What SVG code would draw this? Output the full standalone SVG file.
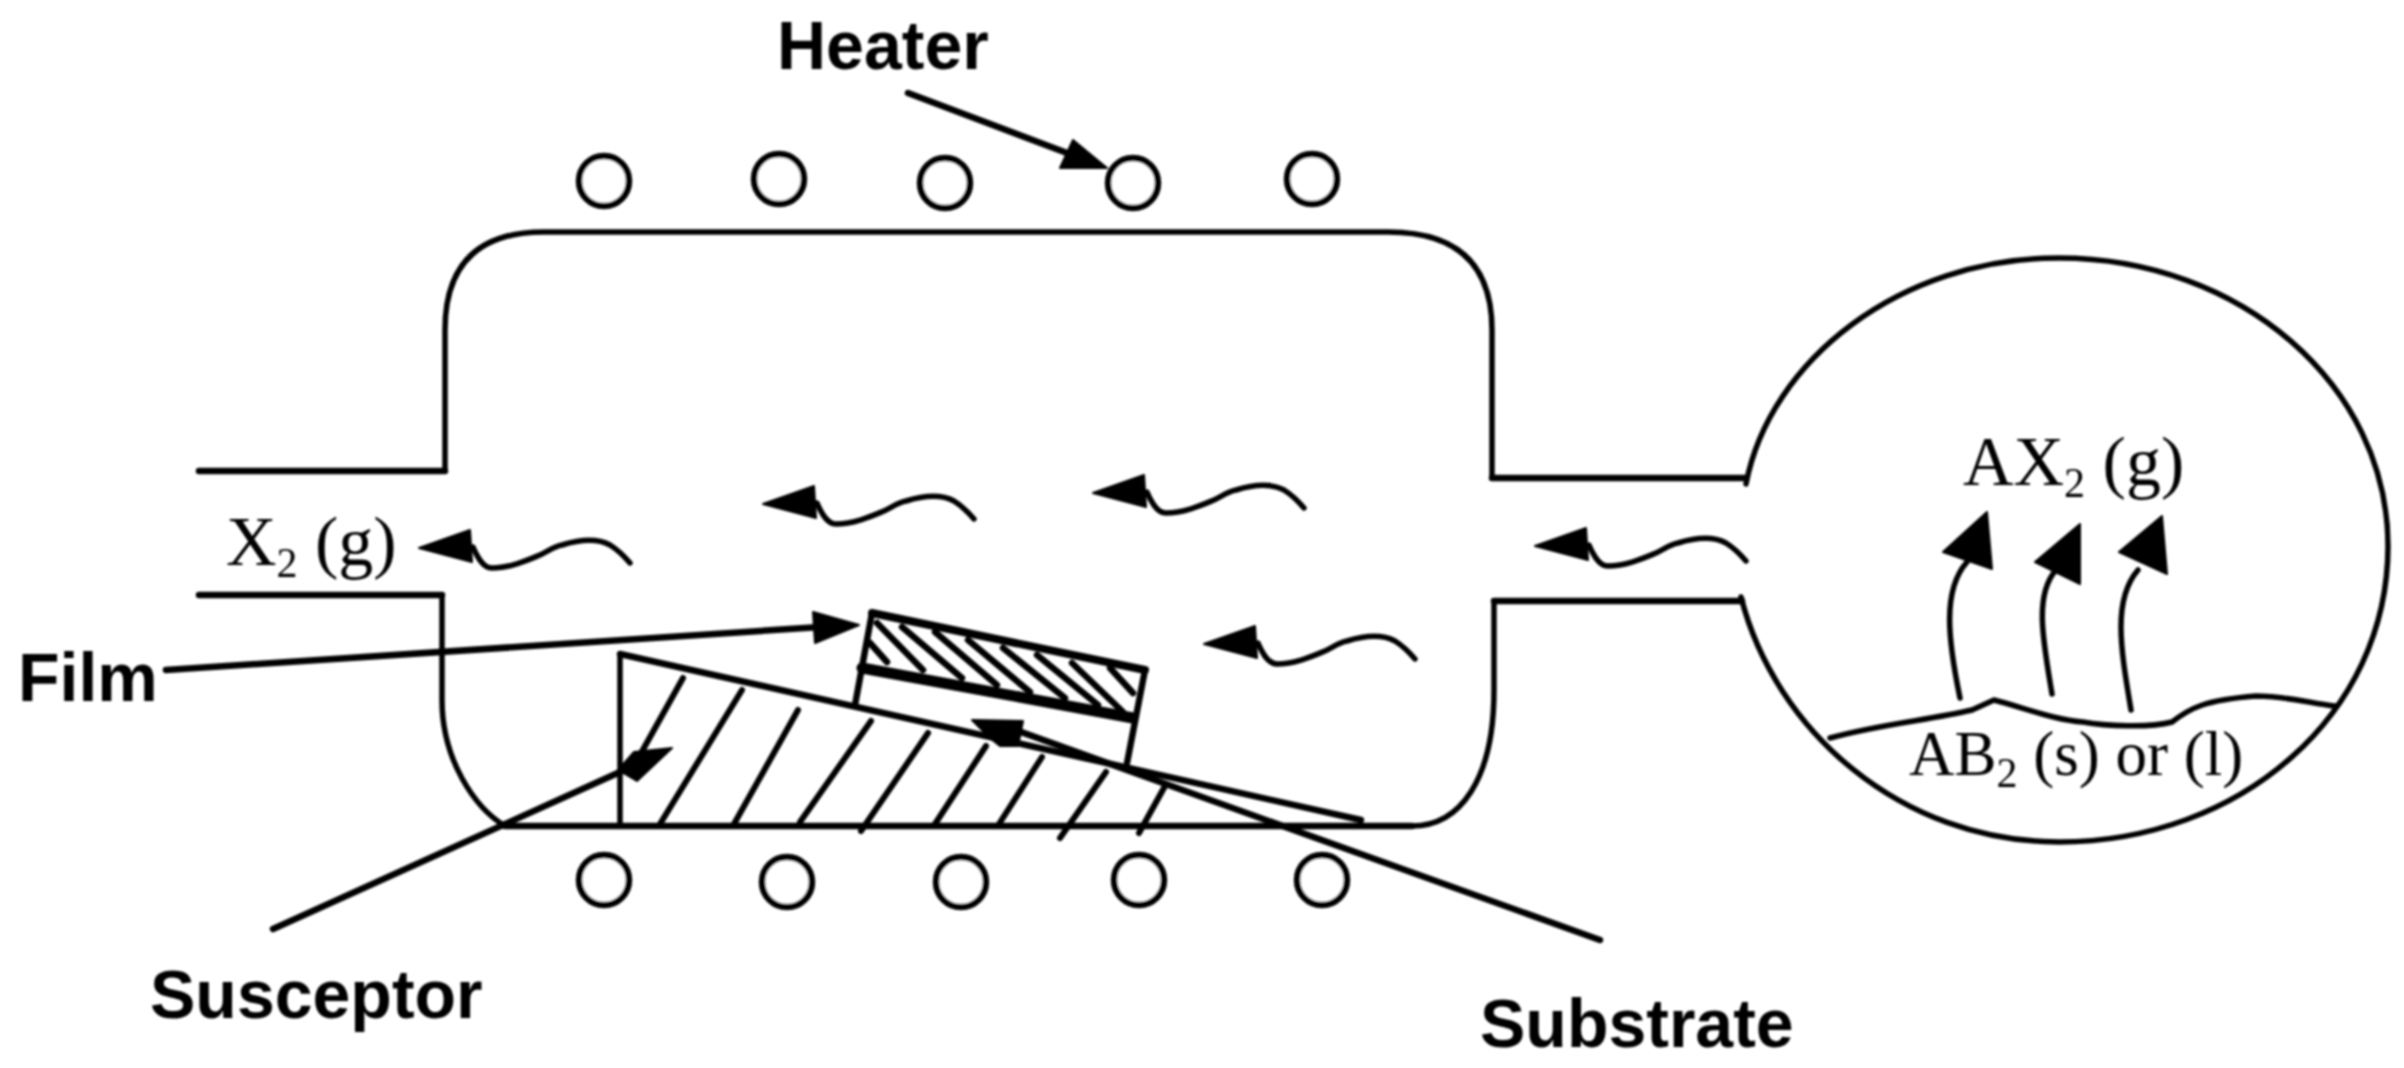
<svg xmlns="http://www.w3.org/2000/svg" width="2404" height="1068" viewBox="0 0 2404 1068">
<style>
.l{fill:none;stroke:#000;stroke-width:5.5;stroke-linecap:round;stroke-linejoin:round}
.t{stroke-width:6.5}
.h{stroke-width:6}
.f{stroke-width:8}
.g{stroke-width:6.5}
.n{stroke-width:11}
.c{fill:#fff;stroke:#000;stroke-width:6.5}
.a{fill:#000;stroke:#000;stroke-width:2;stroke-linejoin:round}
.b{font-family:"Liberation Sans",Arial,sans-serif;font-weight:700;font-size:68px;fill:#000}
.s{font-family:"Liberation Serif","Times New Roman",serif;font-size:70px;fill:#000}
.u{font-size:42px}
</style>
<defs>
<filter id="soft" x="0" y="0" width="2404" height="1068" filterUnits="userSpaceOnUse"><feGaussianBlur stdDeviation="1.1"/></filter>
<g id="flow">
<path class="l" d="M473,547 C476,554 482,568 492,568 C510,568 528,560 540,555 C550,550 555,546 562,545 C575,541 595,537 610,545 C618,550 624,556 630,563"/>
<polygon class="a" points="419,548 470,530 472,562"/>
</g>
</defs>
<rect width="2404" height="1068" fill="#fff"/>
<g filter="url(#soft)">
<g id="chamber">
<path class="l" d="M445,471 V330 Q445,232 544,232 H1388 Q1492,232 1492,330 V478"/>
<path class="l t" d="M199,471 H445"/>
<path class="l t" d="M1492,478 H1745"/>
<path class="l" d="M442,595 V700 C442,760 475,808 505,826 M1412,826 C1460,826 1494,780 1494,690 V601"/>
<path class="l t" d="M199,595 H442"/>
<path class="l t" d="M505,826 H1412"/>
<path class="l t" d="M1494,601 H1742"/>
</g>
<g id="source-bulb">
<path class="l" d="M1746,484 C1770,360 1900,258 2059,258 C2240,258 2388,385 2388,546 C2388,715 2240,842 2059,842 C1900,842 1775,730 1741,597"/>
<path class="l" d="M1830,738 C1880,724 1930,720 1972,710 L1994,700 C2025,708 2055,720 2083,722 C2105,726 2150,728 2172,722 C2190,708 2205,700 2256,696 C2285,696 2310,703 2335,706"/>
</g>
<g id="heater-coils">
<circle class="c" cx="604" cy="181" r="25"/>
<circle class="c" cx="779" cy="179" r="25"/>
<circle class="c" cx="945" cy="183" r="25"/>
<circle class="c" cx="1133" cy="183" r="25"/>
<circle class="c" cx="1312" cy="179" r="25"/>
<circle class="c" cx="604" cy="880" r="25"/>
<circle class="c" cx="787" cy="882" r="25"/>
<circle class="c" cx="961" cy="882" r="25"/>
<circle class="c" cx="1139" cy="880" r="25"/>
<circle class="c" cx="1322" cy="880" r="25"/>
</g>
<g id="susceptor">
<path class="l" d="M620,654 V826"/>
<path class="l t" d="M620,654 L1361,820"/>
<path class="l h" d="M742,690 L660,824 M798,710 L734,824 M871,721 L800,822 M928,733 L861,831 M986,746 L935,824 M1042,757 L999,824 M1106,772 L1060,838 M1165,786 L1139,833"/>
</g>
<g id="substrate">
<path class="l t" d="M855,705 L872,613 M1145,670 L1127,763"/>
</g>
<g id="film">
<path class="l f" d="M872,613 L1145,670"/>
<path class="l n" d="M862,668 L1133,718"/>
<path class="l g" d="M877,623 L923,670 M902,627 L962,678 M935,632 L997,685 M968,640 L1030,692 M1003,648 L1065,698 M1037,655 L1098,705 M1072,663 L1123,712 M1110,668 L1133,693 M870,643 L887,662"/>
</g>
<g id="connectors">
<path class="l t" d="M908,93 L1075,156"/>
<polygon class="a" points="1107,168 1060,168 1073,140"/>
<path class="l t" d="M166,670 L820,627"/>
<polygon class="a" points="859,625 813,612 815,643"/>
<path class="l t" d="M273,929 L620,772"/>
<path class="l h" d="M683,678 L640,755"/>
<polygon class="a" points="672,748 634,752 618,770 637,781"/>
<path class="l t" d="M1010,728 L1600,940"/>
<polygon class="a" points="972,720 1023,721 1018,746 1000,746 990,738"/>
<use href="#flow"/>
<use href="#flow" x="344" y="-44"/>
<use href="#flow" x="674" y="-55"/>
<use href="#flow" x="785" y="96"/>
<use href="#flow" x="1116" y="-2"/>
<path class="l" d="M1960,698 C1948,640 1942,590 1967,562"/>
<polygon class="a" points="1987,512 1943,552 1992,569"/>
<path class="l" d="M2052,694 C2043,640 2034,595 2056,570"/>
<polygon class="a" points="2080,524 2035,562 2080,584"/>
<path class="l" d="M2131,710 C2121,650 2112,600 2138,570"/>
<polygon class="a" points="2162,516 2119,552 2167,574"/>
</g>
<g id="labels">
<text class="b" x="777" y="69">Heater</text>
<text class="b" x="18" y="701">Film</text>
<text class="b" x="150" y="1018">Susceptor</text>
<text class="b" x="1480" y="1047">Substrate</text>
<text class="s" x="226" y="565">X<tspan class="u" dy="12">2</tspan><tspan dy="-12"> (g)</tspan></text>
<text class="s" x="1963" y="485">AX<tspan class="u" dy="12">2</tspan><tspan dy="-12"> (g)</tspan></text>
<text class="s" x="1909" y="775" style="font-size:63px">AB<tspan class="u" dy="12">2</tspan><tspan dy="-12"> (s) or (l)</tspan></text>
</g>
</g>
</svg>
